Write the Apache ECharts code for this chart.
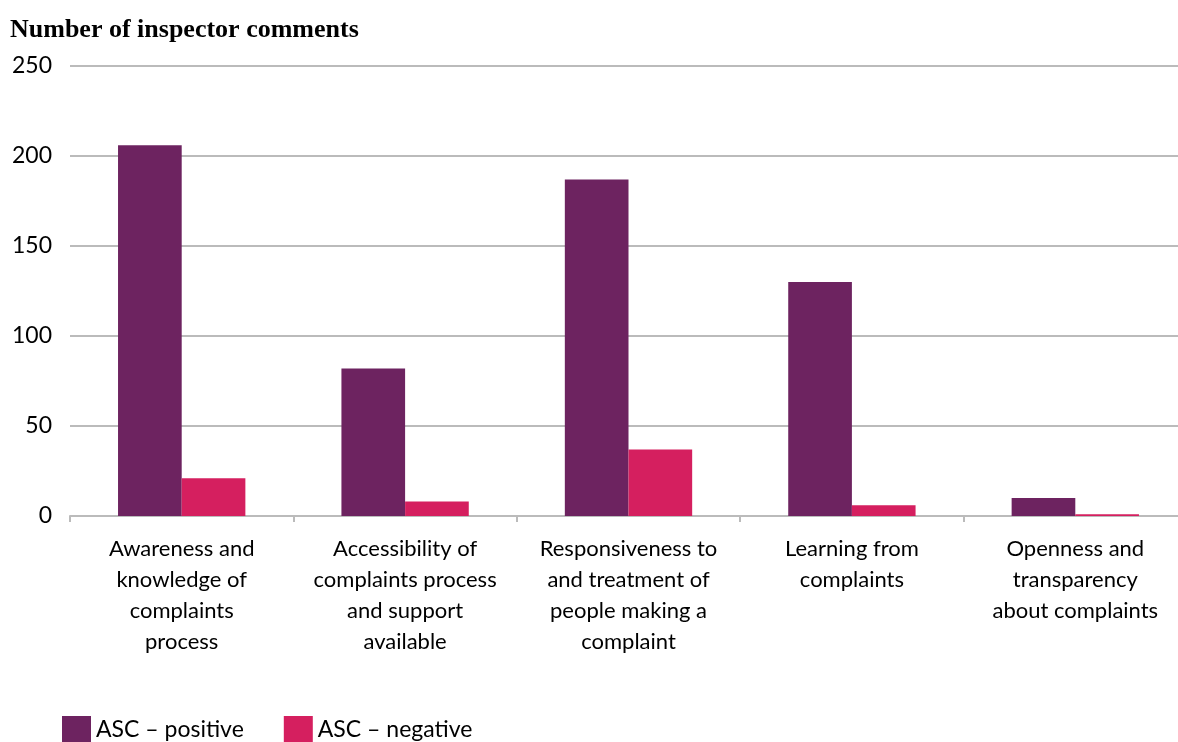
<!DOCTYPE html>
<html>
<head>
<meta charset="utf-8">
<script src="https://cdn.jsdelivr.net/npm/echarts@6/dist/echarts.min.js"></script>
<style>
  html, body { margin: 0; padding: 0; background: #fff; }
  #chart { width: 1178px; height: 742px; }
</style>
</head>
<body>
<div id="chart"></div>
<script>
const categories = [
    'Awareness and\nknowledge of\ncomplaints\nprocess',
    'Accessibility of\ncomplaints process\nand support\navailable',
    'Responsiveness to\nand treatment of\npeople making a\ncomplaint',
    'Learning from\ncomplaints',
    'Openness and\ntransparency\nabout complaints'
];
const positive = [206, 82, 187, 130, 10];
const negative = [21, 8, 37, 6, 1];
const yTicks = [0, 50, 100, 150, 200, 250];

const chart = echarts.init(document.getElementById('chart'));
const labelFont = 'Lato, "Open Sans", sans-serif';

chart.setOption({
    animation: false,
    title: {
        text: 'Number of inspector comments',
        left: 10,
        top: 17,
        padding: 0,
        textStyle: {
            fontFamily: '"Liberation Serif", serif',
            fontWeight: 'bold',
            fontSize: 26,
            color: '#000'
        }
    },
    color: ['#6D2360', '#D51F5F'],
    legend: {
        left: 62,
        top: 716,
        padding: 0,
        itemWidth: 29,
        itemHeight: 27,
        itemGap: 40,
        icon: 'rect',
        textStyle: { fontFamily: labelFont, fontSize: 23, color: '#000' },
        data: ['ASC – positive', 'ASC – negative']
    },
    grid: { left: 70, top: 66, width: 1117, height: 450, outerBoundsMode: 'none' },
    xAxis: {
        type: 'category',
        data: categories,
        axisLine: { lineStyle: { color: '#BBBBBB', width: 2 } },
        axisTick: { show: true, length: 6, lineStyle: { color: '#BBBBBB', width: 2 } },
        axisLabel: {
            interval: 0,
            margin: 17,
            fontFamily: labelFont,
            fontSize: 22,
            lineHeight: 31,
            color: '#000'
        }
    },
    yAxis: {
        type: 'value',
        min: yTicks[0],
        max: yTicks[yTicks.length - 1],
        interval: 50,
        axisLine: { show: false },
        axisTick: { show: false },
        axisLabel: { margin: 18, fontFamily: labelFont, fontSize: 23, color: '#000' },
        splitLine: { lineStyle: { color: '#BBBBBB', width: 2 } }
    },
    series: [
        {
            name: 'ASC – positive',
            type: 'bar',
            data: positive,
            barGap: '0%',
            barCategoryGap: '43%'
        },
        {
            name: 'ASC – negative',
            type: 'bar',
            data: negative
        }
    ]
});
</script>
</body>
</html>
